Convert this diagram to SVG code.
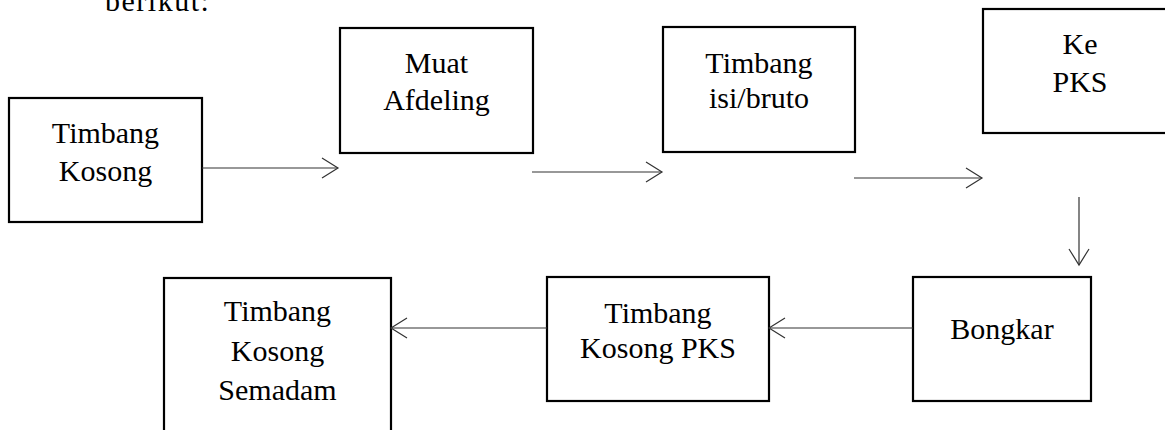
<svg xmlns="http://www.w3.org/2000/svg" width="1165" height="430" viewBox="0 0 1165 430">
<style>
.box{fill:#fff;stroke:#000;stroke-width:2.2}
.t{font-family:"Liberation Serif","Times New Roman",serif;font-size:30px;fill:#000;text-anchor:middle}
.c{stroke:#333;stroke-width:1.2;fill:none}
</style>
<defs>
<marker id="ah" markerUnits="userSpaceOnUse" markerWidth="20" markerHeight="24" refX="17" refY="11" orient="auto">
<path d="M1,1 L17,11 L1,21" fill="none" stroke="#333" stroke-width="1.2"/>
</marker>
</defs>
<rect width="1165" height="430" fill="#fff"/>
<text x="105" y="11" style="font-family:'Liberation Serif','Times New Roman',serif;font-size:30px;letter-spacing:1.5px" fill="#000">berikut:</text>
<g id="timbang-kosong">
<rect class="box" x="9" y="98" width="193" height="124"/>
<text class="t" x="105.5" y="143">Timbang</text>
<text class="t" x="105.5" y="181">Kosong</text>
</g>
<g id="muat-afdeling">
<rect class="box" x="340" y="28" width="193" height="125"/>
<text class="t" x="436.5" y="73">Muat</text>
<text class="t" x="436.5" y="110">Afdeling</text>
</g>
<g id="timbang-isi">
<rect class="box" x="663" y="27" width="192" height="125"/>
<text class="t" x="759" y="73">Timbang</text>
<text class="t" x="759" y="108">isi/bruto</text>
</g>
<g id="ke-pks">
<rect class="box" x="983" y="9" width="194" height="124"/>
<text class="t" x="1080" y="54">Ke</text>
<text class="t" x="1080" y="92">PKS</text>
</g>
<g id="bongkar">
<rect class="box" x="913" y="277" width="178" height="124"/>
<text class="t" x="1002" y="339">Bongkar</text>
</g>
<g id="timbang-kosong-pks">
<rect class="box" x="547" y="277" width="222" height="124"/>
<text class="t" x="658" y="323">Timbang</text>
<text class="t" x="658" y="358">Kosong PKS</text>
</g>
<g id="timbang-kosong-semadam">
<rect class="box" x="164" y="278" width="227" height="170"/>
<text class="t" x="277.5" y="321">Timbang</text>
<text class="t" x="277.5" y="361">Kosong</text>
<text class="t" x="277.5" y="400">Semadam</text>
</g>
<g id="connectors">
<line class="c" x1="202" y1="168" x2="338" y2="168" marker-end="url(#ah)"/>
<line class="c" x1="532" y1="172" x2="662" y2="172" marker-end="url(#ah)"/>
<line class="c" x1="854" y1="178" x2="982" y2="178" marker-end="url(#ah)"/>
<line class="c" x1="1079" y1="197" x2="1079" y2="265" marker-end="url(#ah)"/>
<line class="c" x1="913" y1="328" x2="769" y2="328" marker-end="url(#ah)"/>
<line class="c" x1="547" y1="328" x2="391" y2="328" marker-end="url(#ah)"/>
</g>
</svg>
